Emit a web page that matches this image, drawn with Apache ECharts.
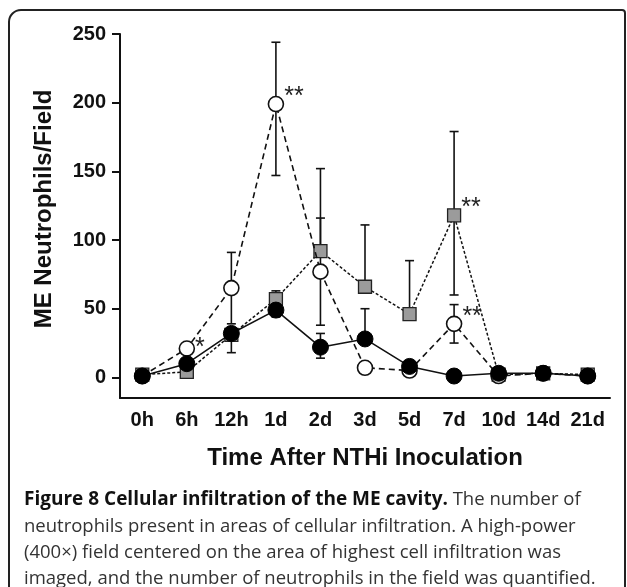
<!DOCTYPE html>
<html><head><meta charset="utf-8">
<script src="https://cdn.jsdelivr.net/npm/echarts@6/dist/echarts.min.js"></script>
<style>html,body{margin:0;padding:0;background:#fff}#c{width:627px;height:587px}</style>
</head><body><div id="c"></div>
<script>
const categories = ['0h','6h','12h','1d','2d','3d','5d','7d','10d','14d','21d'];
const yTicks = [0, 50, 100, 150, 200, 250];

// open circles (dashed)
const openVals    = [1, 21, 65, 199, 77, 7, 5, 39, 1, 3, 1];
const openErrUp   = [0, 0, 26, 45, 39, 0, 0, 14, 0, 0, 0];
const openErrDown = [0, 0, 26, 52, 39, 0, 0, 14, 0, 0, 0];
const openStars   = ['', '*', '', '**', '', '', '', '**', '', '', ''];

// grey squares (fine dashed)
const squareVals    = [2, 4, 31, 57, 92, 66, 46, 118, 2, 3, 2];
const squareErrUp   = [0, 0, 0, 6, 60, 45, 39, 61, 0, 0, 0];
const squareErrDown = [0, 0, 0, 0, 0, 0, 0, 58, 0, 0, 0];
const squareStars   = ['', '', '', '', '', '', '', '**', '', '', ''];

// filled circles (solid)
const filledVals    = [1, 10, 32, 49, 22, 28, 8, 1, 3, 3, 1];
const filledErrUp   = [0, 0, 0, 0, 10, 22, 0, 0, 0, 0, 0];
const filledErrDown = [0, 0, 14, 5, 8, 0, 0, 0, 0, 0, 0];

const captionBold = 'Figure 8 Cellular infiltration of the ME cavity.';
const captionLines = [
  ' The number of',
  'neutrophils present in areas of cellular infiltration. A high-power',
  '(400\u00d7) field centered on the area of highest cell infiltration was',
  'imaged, and the number of neutrophils in the field was quantified.'
];

function errData(vals, up, down) {
  return vals.map((v, i) => [i, v - down[i], v + up[i], up[i], down[i]]);
}
function starData(vals, stars) {
  return vals.map((v, i) => stars[i] ? {value: v, label: {show: true, formatter: stars[i],
    offset: stars[i] === '*' ? [-2, 0] : [-2, -7]}} : v);
}

function renderErr(params, api) {
  const x = api.value(0);
  const lo = api.coord([x, api.value(1)]);
  const hi = api.coord([x, api.value(2)]);
  const up = api.value(3), dn = api.value(4);
  const st = {stroke: '#111', lineWidth: 1.6};
  const w = 4.5;
  const ch = [];
  if (up > 0 || dn > 0) {
    ch.push({type: 'line', shape: {x1: lo[0], y1: lo[1], x2: hi[0], y2: hi[1]}, style: st});
  }
  if (up > 0) ch.push({type: 'line', shape: {x1: hi[0]-w, y1: hi[1], x2: hi[0]+w, y2: hi[1]}, style: st});
  if (dn > 0) ch.push({type: 'line', shape: {x1: lo[0]-w, y1: lo[1], x2: lo[0]+w, y2: lo[1]}, style: st});
  return {type: 'group', children: ch};
}

const starLabel = {show: false, position: 'right', distance: 2, fontFamily: 'Liberation Sans, Arial', fontSize: 25, color: '#222'};
const regFont = 18.5;

const chart = echarts.init(document.getElementById('c'));
chart.setOption({
  animation: false,
  backgroundColor: '#fff',
  grid: {left: 120, right: 17, top: 34, bottom: 189},
  xAxis: {
    type: 'category', data: categories, boundaryGap: true,
    axisLine: {onZero: false, lineStyle: {color: '#111', width: 2}},
    axisTick: {alignWithLabel: true, length: 9, lineStyle: {color: '#111', width: 2}},
    axisLabel: {fontFamily: 'Liberation Sans, Arial', fontWeight: 'bold', fontSize: 20, color: '#111', margin: 12, interval: 0},
    name: 'Time After NTHi Inoculation', nameLocation: 'middle', nameGap: 48,
    nameTextStyle: {fontFamily: 'Liberation Sans, Arial', fontWeight: 'bold', fontSize: 24, color: '#111'}
  },
  yAxis: {
    type: 'value', min: -15, max: 250,
    splitLine: {show: false},
    axisLine: {show: true, lineStyle: {color: '#111', width: 2}},
    axisTick: {show: true, length: 8, customValues: yTicks, lineStyle: {color: '#111', width: 2}},
    axisLabel: {customValues: yTicks, fontFamily: 'Liberation Sans, Arial', fontWeight: 'bold', fontSize: 20, color: '#111', margin: 14},
    name: 'ME Neutrophils/Field', nameLocation: 'middle', nameGap: 64,
    nameTextStyle: {fontFamily: 'Liberation Sans, Arial', fontWeight: 'bold', fontSize: 24, color: '#111', padding: [0, 0, 0, 14]}
  },
  series: [
    {type: 'custom', renderItem: renderErr, data: errData(squareVals, squareErrUp, squareErrDown), z: 1, silent: true},
    {type: 'custom', renderItem: renderErr, data: errData(openVals, openErrUp, openErrDown), z: 1, silent: true},
    {type: 'custom', renderItem: renderErr, data: errData(filledVals, filledErrUp, filledErrDown), z: 1, silent: true},
    {type: 'line', data: starData(squareVals, squareStars), z: 3, symbol: 'rect', symbolSize: 13,
      itemStyle: {color: '#9b9b9b', borderColor: '#222', borderWidth: 1.3},
      lineStyle: {color: '#111', width: 1.5, type: [3, 2]}, label: starLabel},
    {type: 'line', data: starData(openVals, openStars), z: 4, symbol: 'circle', symbolSize: 15,
      itemStyle: {color: '#fff', borderColor: '#111', borderWidth: 1.6},
      lineStyle: {color: '#111', width: 1.6, type: [6, 4]}, label: starLabel},
    {type: 'line', data: filledVals, z: 5, symbol: 'circle', symbolSize: 16,
      itemStyle: {color: '#000', borderColor: '#000', borderWidth: 1},
      lineStyle: {color: '#111', width: 1.6}}
  ],
  graphic: [
    {type: 'rect', shape: {x: 9, y: 10, width: 616, height: 620, r: [12, 3, 0, 0]}, style: {fill: 'none', stroke: '#222', lineWidth: 2}, silent: true},
    {type: 'text', left: 24, top: 490, style: {
      text: '{b|' + captionBold + '}{n|' + captionLines[0] + '}',
      rich: {
        b: {fontFamily: 'Open Sans', fontWeight: 'bold', fontSize: 19, fill: '#111'},
        n: {fontFamily: 'Open Sans', fontSize: regFont, fill: '#333'}
      }}},
    {type: 'text', left: 24, top: 517, style: {text: captionLines[1], fontFamily: 'Open Sans', fontSize: regFont, fill: '#333'}},
    {type: 'text', left: 24, top: 543, style: {text: captionLines[2], fontFamily: 'Open Sans', fontSize: regFont, fill: '#333'}},
    {type: 'text', left: 24, top: 569, style: {text: captionLines[3], fontFamily: 'Open Sans', fontSize: regFont, fill: '#333'}}
  ]
});
</script></body></html>
